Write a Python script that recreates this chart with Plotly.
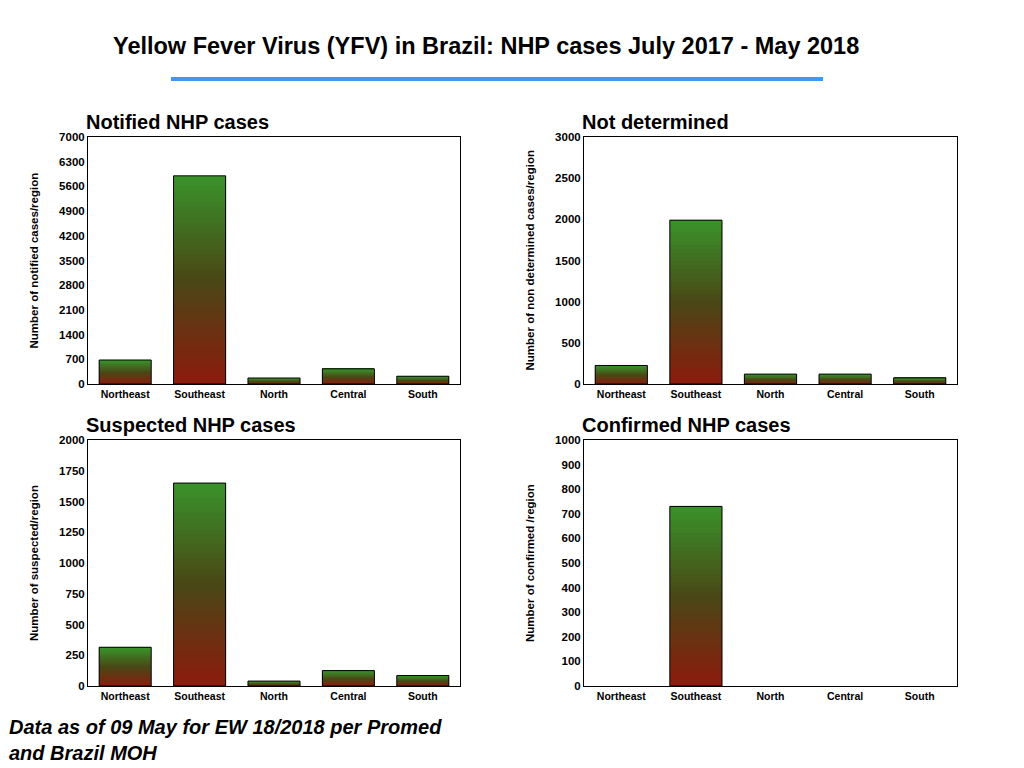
import plotly.graph_objects as go

regions = ["Northeast", "Southeast", "North", "Central", "South"]
notified = [680, 5900, 170, 430, 220]
not_determined = [225, 1990, 120, 120, 75]
suspected = [315, 1650, 40, 125, 85]
confirmed = [0, 730, 0, 0, 0]

panels = [
    ("Notified NHP cases", "Number of notified cases/region", notified, [0, 7000], 700),
    ("Not determined", "Number of non determined cases/region", not_determined, [0, 3000], 500),
    ("Suspected NHP cases", "Number of suspected/region", suspected, [0, 2000], 250),
    ("Confirmed NHP cases", "Number of confirmed /region", confirmed, [0, 1000], 100),
]

def fx(px):
    return (px - 7) / 1024
def fy(py):
    return 1 - (py - 8) / 768

xdom = [[fx(87), fx(459)], [fx(583), fx(956)], [fx(87), fx(459)], [fx(583), fx(956)]]
ydom = [[fy(384), fy(137)], [fy(384), fy(137)], [fy(686), fy(440)], [fy(686), fy(440)]]

N = 40
def col(t):
    stops = [(0.0, (140, 28, 14)), (0.5, (74, 72, 22)), (1.0, (58, 145, 42))]
    for (a, ca), (b, cb) in zip(stops, stops[1:]):
        if t <= b:
            f = (t - a) / (b - a)
            return "rgb(%d,%d,%d)" % tuple(int(ca[i] + (cb[i] - ca[i]) * f) for i in range(3))
    return "rgb(58,145,42)"

fig = go.Figure()
shapes = []
annotations = []
W = 0.7
FONT = "Liberation Sans"
for p, (title, ytitle, vals, rng, dt) in enumerate(panels):
    ax = "" if p == 0 else str(p + 1)
    for k in range(N):
        fig.add_trace(go.Bar(x=regions, y=[v / N for v in vals], width=W,
                             marker=dict(color=col(k / (N - 1)), line=dict(width=0)),
                             xaxis="x" + ax, yaxis="y" + ax, showlegend=False, hoverinfo="skip"))
    for i, v in enumerate(vals):
        if v > 0:
            shapes.append(dict(type="rect", xref="x" + ax, yref="y" + ax, x0=i - W / 2, x1=i + W / 2,
                               y0=0, y1=v, line=dict(color="black", width=1)))
    fig.layout["xaxis" + ax] = dict(domain=xdom[p], anchor="y" + ax, showline=True, mirror=True,
                                   linecolor="black", linewidth=1, ticks="", range=[-0.5, 4.5],
                                   automargin=False,
                                   tickfont=dict(size=10.5, family=FONT, color="black", weight="bold"))
    fig.layout["yaxis" + ax] = dict(domain=ydom[p], anchor="x" + ax, showline=True, mirror=True,
                                   linecolor="black", linewidth=1, range=rng, dtick=dt, showgrid=False,
                                   zeroline=False, ticks="", automargin=False,
                                   tickfont=dict(size=11.5, family=FONT, color="black", weight="bold"))
    annotations.append(dict(text="<b>" + ytitle + "</b>", xref="paper", yref="paper", textangle=-90,
                            x=xdom[p][0] - 54 / 1024, y=sum(ydom[p]) / 2, xanchor="center", yanchor="middle",
                            showarrow=False, font=dict(size=11.5, family=FONT, color="black")))
    annotations.append(dict(text="<b>" + title + "</b>", xref="paper", yref="paper",
                            x=xdom[p][0] - 0.004, y=ydom[p][1] + 0.002, xanchor="left", yanchor="bottom",
                            showarrow=False, font=dict(size=20, family=FONT, color="black")))

annotations.append(dict(text="<b>Yellow Fever Virus (YFV) in Brazil: NHP cases July 2017 - May 2018</b>",
                        xref="paper", yref="paper", x=fx(485), y=fy(46), xanchor="center", yanchor="middle",
                        showarrow=False, font=dict(size=23.5, family=FONT, color="black")))
annotations.append(dict(text="<b><i>Data as of 09 May for EW 18/2018 per Promed<br>and Brazil MOH</i></b>",
                        xref="paper", yref="paper", x=fx(6), y=fy(714), xanchor="left", yanchor="top",
                        align="left", showarrow=False,
                        font=dict(size=20, family=FONT, color="black")))
shapes.append(dict(type="line", xref="paper", yref="paper", x0=fx(170), x1=fx(822),
                   y0=fy(79), y1=fy(79), line=dict(color="#3d99f5", width=4)))

fig.update_layout(width=1024, height=768, margin=dict(l=0, r=0, t=0, b=0, autoexpand=False),
                  barmode="stack", bargap=0.3,
                  plot_bgcolor="white", paper_bgcolor="white", shapes=shapes, annotations=annotations)
fig.write_html("out.html")
